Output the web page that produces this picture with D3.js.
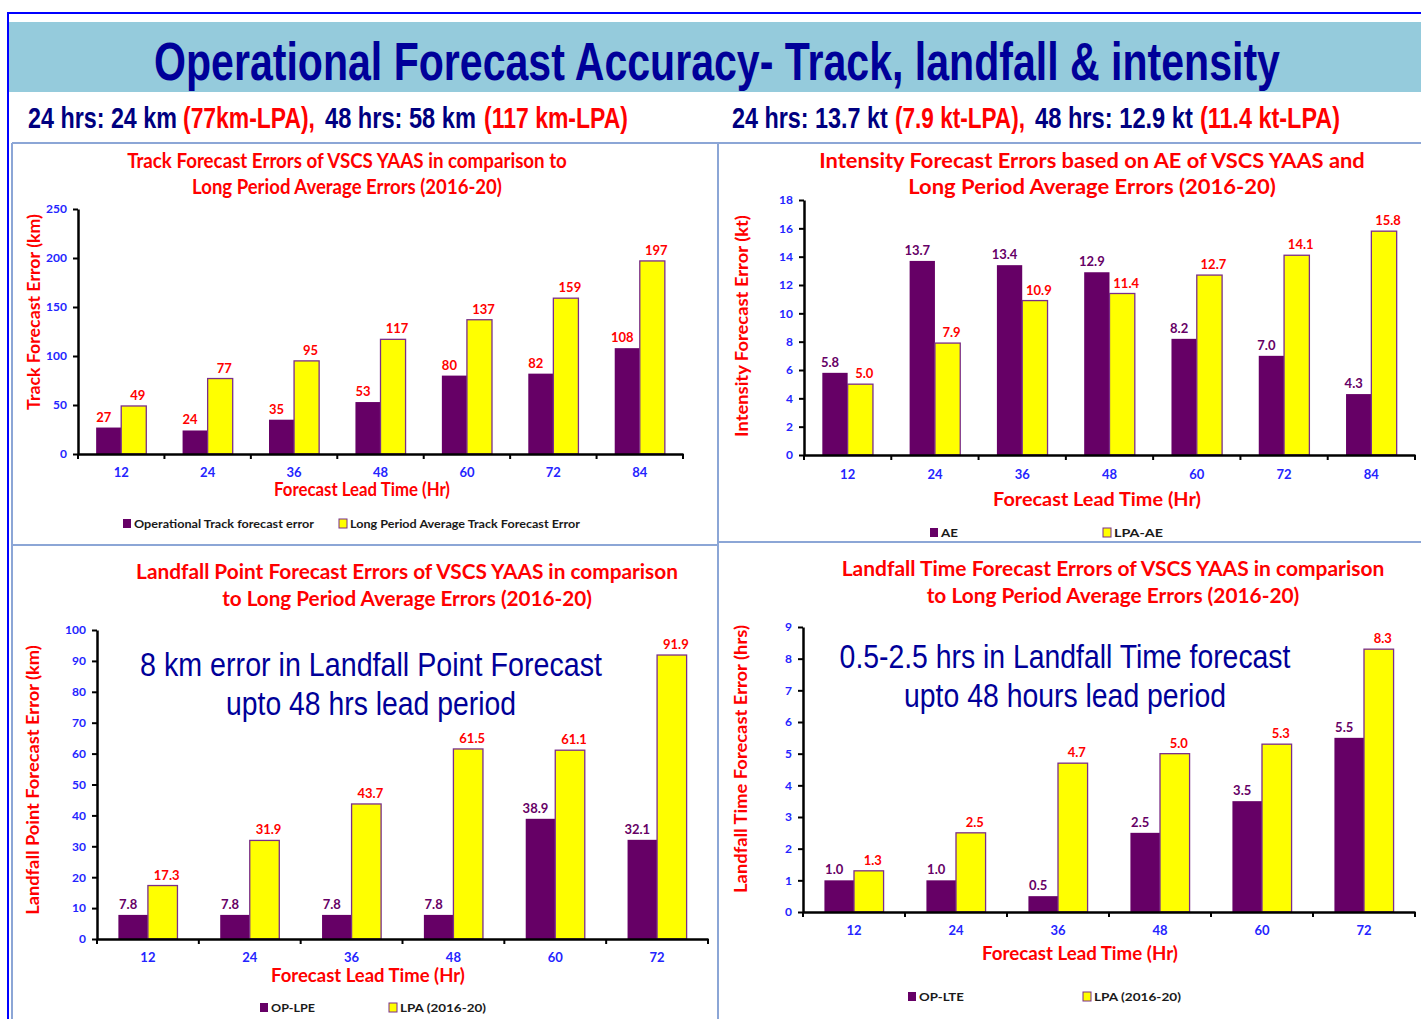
<!DOCTYPE html>
<html><head><meta charset="utf-8">
<script src="https://cdn.jsdelivr.net/npm/d3@7"></script>
<style>
html,body{margin:0;padding:0;background:#fff;}
svg{display:block;}
</style></head>
<body>
<svg id="c" width="1421" height="1019"></svg>
<script>
// ---------------- DATA ----------------
const trackCats = ["12","24","36","48","60","72","84"];
const trackOp  = [27, 24, 35, 53, 80, 82, 108];
const trackLpa = [49, 77, 95, 117, 137, 159, 197];
const trackTicks = [0, 50, 100, 150, 200, 250];

const intCats = ["12","24","36","48","60","72","84"];
const intAe  = [5.8, 13.7, 13.4, 12.9, 8.2, 7.0, 4.3];
const intLpa = [5.0, 7.9, 10.9, 11.4, 12.7, 14.1, 15.8];
const intTicks = [0, 2, 4, 6, 8, 10, 12, 14, 16, 18];

const lpeCats = ["12","24","36","48","60","72"];
const lpeOp  = [7.8, 7.8, 7.8, 7.8, 38.9, 32.1];
const lpeLpa = [17.3, 31.9, 43.7, 61.5, 61.1, 91.9];
const lpeTicks = [0, 10, 20, 30, 40, 50, 60, 70, 80, 90, 100];

const lteCats = ["12","24","36","48","60","72"];
const lteOp  = [1.0, 1.0, 0.5, 2.5, 3.5, 5.5];
const lteLpa = [1.3, 2.5, 4.7, 5.0, 5.3, 8.3];
const lteTicks = [0, 1, 2, 3, 4, 5, 6, 7, 8, 9];

// ---------------- STYLE ----------------
const PURPLE = "#660066", YELLOW = "#FFFF00", RED = "#FF0000", BLUE = "#2424FF", NAVY = "#000099";
const CAL = "Lato, 'Open Sans', sans-serif";
const NARROW = "'Liberation Sans Narrow', 'Liberation Sans', Arial, sans-serif";

const svg = d3.select("#c");

// text helper: when len is given, the text is scaled horizontally to that width
function txt(g, x, y, s, o) {
  o = o || {};
  const t = g.append("text").attr("x", 0).attr("y", 0).text(s)
    .attr("font-family", o.family || CAL)
    .attr("font-size", o.size || 12)
    .attr("font-weight", o.weight || "bold")
    .attr("fill", o.fill || "#000")
    .attr("text-anchor", o.anchor || "middle");
  let tr = `translate(${x},${y})`;
  if (o.rotate) tr += " rotate(-90)";
  if (o.len) {
    const w = t.node().getComputedTextLength();
    if (w > 0) tr += ` scale(${o.len / w},1)`;
  }
  t.attr("transform", tr);
  return t;
}

// ---------------- FRAME ----------------
svg.append("rect").attr("x", 8).attr("y", 22).attr("width", 1413).attr("height", 70).attr("fill", "#95CBDC");
svg.append("line").attr("x1", 7).attr("x2", 1421).attr("y1", 13).attr("y2", 13).attr("stroke", "#0000FF").attr("stroke-width", 2);
svg.append("line").attr("x1", 8).attr("x2", 8).attr("y1", 13).attr("y2", 1019).attr("stroke", "#0000FF").attr("stroke-width", 2);

txt(svg, 717, 80, "Operational Forecast Accuracy- Track, landfall & intensity",
  {family: NARROW, size: 54, fill: NAVY, len: 1126});

// subtitles: [x-start, text, colour, width]
const SUBNAVY = "#000080";
[
  [28, "24 hrs: 24 km", SUBNAVY, 149], [183, "(77km-LPA),", RED, 132],
  [325, "48 hrs: 58 km", SUBNAVY, 151], [484, "(117 km-LPA)", RED, 144],
  [732, "24 hrs: 13.7 kt", SUBNAVY, 156], [895, "(7.9  kt-LPA),", RED, 130],
  [1035, "48 hrs: 12.9  kt", SUBNAVY, 158], [1200, "(11.4 kt-LPA)", RED, 140]
].forEach(p => txt(svg, p[0], 128, p[1], {family: NARROW, size: 30, fill: p[2], anchor: "start", len: p[3]}));

// panel borders
const BORDER = "#8CA6D6";
[[12, 143, 1421, 143], [12, 545, 717, 545], [719, 542, 1421, 542], [718, 143, 718, 1019], [12, 143, 12, 1019]]
  .forEach(l => svg.append("line").attr("x1", l[0]).attr("y1", l[1]).attr("x2", l[2]).attr("y2", l[3])
    .attr("stroke", BORDER).attr("stroke-width", 2));

// ---------------- CHART ----------------
function chart(c) {
  const g = svg.append("g");
  const x0 = d3.scaleBand().domain(c.cats).range([c.x1, c.x2]).padding(0);
  const y = d3.scaleLinear().domain([c.ticks[0], c.ticks[c.ticks.length - 1]]).range([c.yb, c.yt]);
  const bw = x0.bandwidth() * 0.29;

  // titles
  c.titles.forEach(t => txt(g, t[0], t[1], t[2], {size: 20, fill: RED, len: t[3]}));

  // bars
  const series = [
    {vals: c.s1, fill: PURPLE, off: -bw, lab: c.lab1, ldx: -5},
    {vals: c.s2, fill: YELLOW, off: 0, lab: RED, ldx: 4}
  ];
  series.forEach(s => {
    g.selectAll(null).data(s.vals).enter().append("rect")
      .attr("x", (d, i) => x0(c.cats[i]) + x0.bandwidth() / 2 + s.off)
      .attr("y", d => y(d))
      .attr("width", bw)
      .attr("height", d => y(0) - y(d))
      .attr("fill", s.fill)
      .attr("stroke", s.fill === YELLOW ? "#7A2E8A" : "none")
      .attr("stroke-width", 1.3);
    g.selectAll(null).data(s.vals).enter().append("text")
      .attr("x", (d, i) => x0(c.cats[i]) + x0.bandwidth() / 2 + s.off + bw / 2 + s.ldx)
      .attr("y", d => y(d) - 6)
      .attr("text-anchor", "middle")
      .attr("font-family", CAL).attr("font-weight", "bold").attr("font-size", 13)
      .attr("fill", s.lab)
      .text(d => c.fmt(d));
  });

  // y axis
  const ya = g.append("g").attr("transform", `translate(${c.x1},0)`)
    .call(d3.axisLeft(y).tickValues(c.ticks).tickSize(5).tickSizeOuter(0).tickFormat(d3.format("d")));
  ya.select(".domain").attr("stroke", "#000").attr("stroke-width", 2.5);
  ya.selectAll(".tick line").attr("stroke", "#000").attr("stroke-width", 2);
  ya.selectAll(".tick text").attr("fill", BLUE).attr("font-family", CAL).attr("font-weight", "bold")
    .attr("font-size", 12).attr("dx", -3);

  // x axis
  const xa = g.append("g").attr("transform", `translate(0,${c.yb})`)
    .call(d3.axisBottom(x0).tickSize(0).tickSizeOuter(0));
  xa.select(".domain").attr("stroke", "#000").attr("stroke-width", 2.5);
  xa.selectAll(".tick text").attr("fill", BLUE).attr("font-family", CAL).attr("font-weight", "bold")
    .attr("font-size", 13).attr("dy", c.xlabDy);
  // boundary ticks between groups
  const bounds = c.cats.map(k => x0(k)).concat([c.x2]);
  g.selectAll(null).data(bounds).enter().append("line")
    .attr("x1", d => d).attr("x2", d => d).attr("y1", c.yb).attr("y2", c.yb + 5)
    .attr("stroke", "#000").attr("stroke-width", 2);

  // axis titles
  txt(g, c.xt[0], c.xt[1], "Forecast Lead Time (Hr)", {size: 18, fill: RED, len: c.xt[2]});
  txt(g, c.yl[0], c.yl[1], c.ylabel, {size: 17, fill: RED, len: c.yl[2], rotate: true});

  // legend
  const L = c.legend;
  g.append("rect").attr("x", L.x1).attr("y", L.y - 9).attr("width", 8).attr("height", 9).attr("fill", PURPLE);
  txt(g, L.x1 + 11, L.y, L.t1, {size: 12, fill: "#1a1a1a", anchor: "start", len: L.l1});
  g.append("rect").attr("x", L.x2).attr("y", L.y - 9).attr("width", 8).attr("height", 9)
    .attr("fill", YELLOW).attr("stroke", "#7A2E8A").attr("stroke-width", 1);
  txt(g, L.x2 + 11, L.y, L.t2, {size: 12, fill: "#1a1a1a", anchor: "start", len: L.l2});

  // annotation
  if (c.note) c.note.forEach(n => txt(g, n[0], n[1], n[2], {family: NARROW, size: 34, weight: "normal", fill: NAVY, len: n[3]}));
}

chart({
  cats: trackCats, s1: trackOp, s2: trackLpa, ticks: trackTicks, lab1: RED,
  fmt: d3.format("d"),
  x1: 78, x2: 683, yb: 454, yt: 209, xlabDy: "1.5em",
  titles: [[347, 168, "Track Forecast Errors of  VSCS YAAS in comparison to", 440], [347, 194, "Long Period Average Errors (2016-20)", 310]],
  xt: [362, 496, 176], yl: [40, 312, 196], ylabel: "Track Forecast Error (km)",
  legend: {y: 528, x1: 123, t1: "Operational Track forecast error", l1: 180, x2: 339, t2: "Long Period Average Track Forecast Error", l2: 230}
});

chart({
  cats: intCats, s1: intAe, s2: intLpa, ticks: intTicks, lab1: PURPLE,
  fmt: d3.format(".1f"),
  x1: 804, x2: 1415, yb: 455, yt: 200, xlabDy: "1.6em",
  titles: [[1092, 168, "Intensity Forecast Errors based on AE of VSCS YAAS and", 546], [1092, 194, "Long Period Average Errors (2016-20)", 368]],
  xt: [1097, 506, 208], yl: [748, 326, 222], ylabel: "Intensity Forecast Error  (kt)",
  legend: {y: 537, x1: 930, t1: "AE", l1: 17, x2: 1103, t2: "LPA-AE", l2: 49}
});

chart({
  cats: lpeCats, s1: lpeOp, s2: lpeLpa, ticks: lpeTicks, lab1: PURPLE,
  fmt: d3.format(".1f"),
  x1: 97, x2: 708, yb: 939, yt: 630, xlabDy: "1.55em",
  titles: [[407, 579, "Landfall Point Forecast Errors of  VSCS YAAS in comparison", 542], [407, 606, "to Long Period Average Errors (2016-20)", 370]],
  xt: [368, 982, 194], yl: [39, 780, 270], ylabel: "Landfall Point Forecast Error (km)",
  legend: {y: 1012, x1: 260, t1: "OP-LPE", l1: 44, x2: 389, t2: "LPA (2016-20)", l2: 86},
  note: [[371, 676, "8 km error in Landfall Point Forecast", 462], [371, 715, "upto 48 hrs lead period", 290]]
});

chart({
  cats: lteCats, s1: lteOp, s2: lteLpa, ticks: lteTicks, lab1: PURPLE,
  fmt: d3.format(".1f"),
  x1: 803, x2: 1415, yb: 912, yt: 627, xlabDy: "1.55em",
  titles: [[1113, 576, "Landfall Time Forecast Errors of  VSCS YAAS in comparison", 543], [1113, 603, "to Long Period Average Errors (2016-20)", 373]],
  xt: [1080, 960, 196], yl: [747, 759, 268], ylabel: "Landfall Time Forecast Error (hrs)",
  legend: {y: 1001, x1: 908, t1: "OP-LTE", l1: 45, x2: 1083, t2: "LPA (2016-20)", l2: 87},
  note: [[1065, 668, "0.5-2.5 hrs in Landfall Time forecast", 451], [1065, 707, "upto 48 hours lead period", 322]]
});
</script>
</body></html>
